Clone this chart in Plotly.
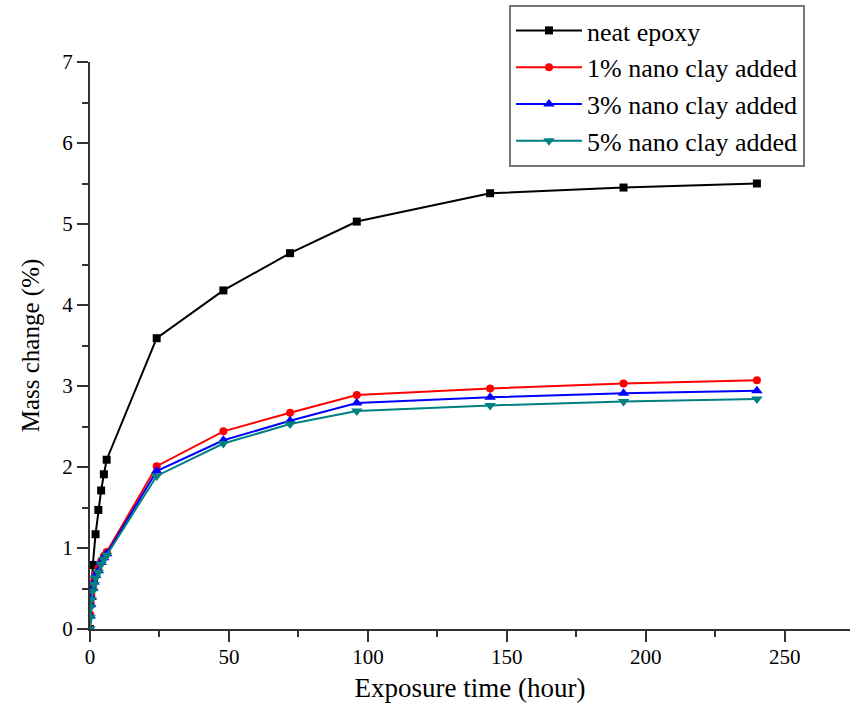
import plotly.graph_objects as go

# Exposure times (hours)
t_neat = [0, 1, 2, 3, 4, 5, 6, 24, 48, 72, 96, 144, 192, 240]
t_clay = [0, 0.1, 0.25, 0.5, 1, 1.5, 2, 3, 4, 5, 6, 24, 48, 72, 96, 144, 192, 240]

# Mass change (%)
neat_epoxy = [0, 0.79, 1.17, 1.47, 1.71, 1.91, 2.09, 3.59, 4.18, 4.64, 5.03, 5.38, 5.45, 5.50]
clay_1 = [0, 0.18, 0.32, 0.42, 0.52, 0.60, 0.68, 0.75, 0.84, 0.90, 0.95, 2.01, 2.44, 2.67, 2.89, 2.97, 3.03, 3.07]
clay_3 = [0, 0.16, 0.30, 0.39, 0.50, 0.58, 0.66, 0.72, 0.82, 0.88, 0.93, 1.95, 2.33, 2.57, 2.79, 2.86, 2.91, 2.94]
clay_5 = [0, 0.14, 0.27, 0.36, 0.47, 0.55, 0.63, 0.70, 0.80, 0.86, 0.91, 1.89, 2.29, 2.53, 2.69, 2.76, 2.81, 2.84]

names = ["neat epoxy", "1% nano clay added", "3% nano clay added", "5% nano clay added"]
colors = ["#000000", "#ff0000", "#0000ff", "#008080"]
symbols = ["square", "circle", "triangle-up", "triangle-down"]
sizes = [8, 8, 10, 10]

series = [(t_neat, neat_epoxy), (t_clay, clay_1), (t_clay, clay_3), (t_clay, clay_5)]

fig = go.Figure()
for (x, y), n, c, s, sz in zip(series, names, colors, symbols, sizes):
    fig.add_trace(go.Scatter(
        x=x, y=y, name=n, mode="lines+markers",
        line=dict(color=c, width=2),
        marker=dict(symbol=s, size=sz, color=c),
    ))

font_family = "Liberation Serif, Times New Roman, serif"

fig.update_layout(
    width=850, height=710,
    margin=dict(l=90, r=0, t=62, b=81, autoexpand=False),
    paper_bgcolor="white", plot_bgcolor="white",
    font=dict(family=font_family, color="black", size=21),
    showlegend=True,
    legend=dict(
        x=(509 - 90) / 760, y=(629 - 5) / 567, xanchor="left", yanchor="top",
        bgcolor="white", bordercolor="#777777", borderwidth=2,
        font=dict(family=font_family, size=26, color="black"),
        tracegroupgap=0, itemwidth=66,
    ),
    xaxis=dict(
        range=[0, 273.5], dtick=50, tick0=0,
        showgrid=False, zeroline=False,
        showline=True, linecolor="#333333", linewidth=2,
        ticks="outside", ticklen=11, tickwidth=2, tickcolor="#333333",
        minor=dict(ticks="outside", ticklen=6, tickwidth=2, tickcolor="#333333", dtick=25),
        tickfont=dict(size=21), ticklabelstandoff=-3,
        title=dict(text="Exposure time (hour)", font=dict(size=27), standoff=10),
    ),
    yaxis=dict(
        range=[0, 7], dtick=1, tick0=0,
        showgrid=False, zeroline=False,
        showline=True, linecolor="#333333", linewidth=2,
        ticks="outside", ticklen=11, tickwidth=2, tickcolor="#333333",
        minor=dict(ticks="outside", ticklen=6, tickwidth=2, tickcolor="#333333", dtick=0.5),
        tickfont=dict(size=21),
        title=dict(text="Mass change (%)", font=dict(size=25), standoff=16),
    ),
)

fig.write_html(
    "out.html",
    config={"displayModeBar": False},
    post_script="document.body.style.margin='0';document.body.style.overflow='hidden';",
)
